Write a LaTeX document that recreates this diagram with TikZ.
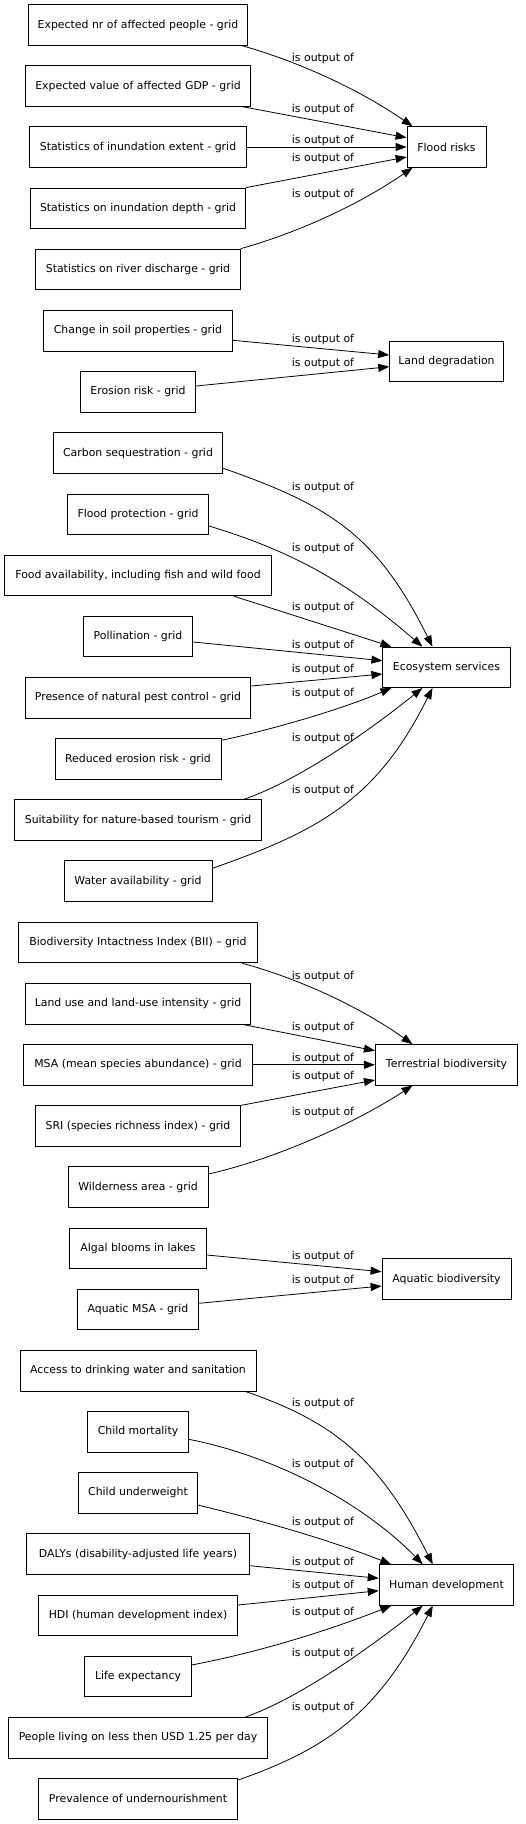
\documentclass[tikz,border=0pt]{standalone}
\usepackage{fontspec}
\setmainfont{DejaVu Sans}
\usetikzlibrary{arrows.meta}
\begin{document}
\begin{tikzpicture}[x=1pt,y=1pt,
  box/.style={draw, line width=0.8pt, minimum height=40.5pt, inner sep=0pt, font=\fontsize{10.9}{13}\selectfont},
  lbl/.style={font=\fontsize{10.9}{13}\selectfont, inner sep=0pt},
  conn/.style={line width=0.8pt, -{Triangle[length=11pt,width=8pt]}}]
\useasboundingbox (0,0) rectangle (525,-1824);
% ---------- Flood risks
\node[box,minimum width=219pt]   (n1) at (138,-25)    {Expected nr of affected people - grid};
\node[box,minimum width=225.7pt] (n2) at (138,-86)    {Expected value of affected GDP - grid};
\node[box,minimum width=217pt]   (n3) at (138,-147)   {Statistics of inundation extent - grid};
\node[box,minimum width=215.7pt] (n4) at (138,-208.2) {Statistics on inundation depth - grid};
\node[box,minimum width=204.7pt] (n5) at (138,-269.3) {Statistics on river discharge - grid};
\node[box,minimum width=79pt]    (fr) at (446.5,-147) {Flood risks};
% ---------- Land degradation
\node[box,minimum width=188.7pt] (n7) at (138,-330.7) {Change in soil properties - grid};
\node[box,minimum width=115.3pt] (n8) at (138,-391.7) {Erosion risk - grid};
\node[box,minimum width=113.7pt] (ld) at (446.5,-361.3) {Land degradation};
% ---------- Ecosystem services
\node[box,minimum width=168.7pt] (n10) at (138,-453)   {Carbon sequestration - grid};
\node[box,minimum width=141.3pt] (n11) at (138,-514.2) {Flood protection - grid};
\node[box,minimum width=267.3pt] (n12) at (138,-575.5) {Food availability, including fish and wild food};
\node[box,minimum width=109.7pt] (n13) at (138,-636.5) {Pollination - grid};
\node[box,minimum width=225.7pt] (n15) at (138,-697.8) {Presence of natural pest control - grid};
\node[box,minimum width=166pt]   (n16) at (138,-759)   {Reduced erosion risk - grid};
\node[box,minimum width=247.3pt] (n17) at (138,-820)   {Suitability for nature-based tourism - grid};
\node[box,minimum width=148pt]   (n18) at (138,-881)   {Water availability - grid};
\node[box,minimum width=127.3pt] (es)  at (446.5,-667.3) {Ecosystem services};
% ---------- Terrestrial biodiversity
\node[box,minimum width=239.3pt] (n19) at (138,-942.5)  {Biodiversity Intactness Index (BII) – grid};
\node[box,minimum width=225.7pt] (n20) at (138,-1003.7) {Land use and land-use intensity - grid};
\node[box,minimum width=228.3pt] (n21) at (138,-1064.8) {MSA (mean species abundance) - grid};
\node[box,minimum width=205.3pt] (n22) at (138,-1126)   {SRI (species richness index) - grid};
\node[box,minimum width=140pt]   (n23) at (138,-1187)   {Wilderness area - grid};
\node[box,minimum width=142.3pt] (tb)  at (446.5,-1064.8) {Terrestrial biodiversity};
% ---------- Aquatic biodiversity
\node[box,minimum width=137pt] (n25) at (138,-1248.3) {Algal blooms in lakes};
\node[box,minimum width=121pt] (n26) at (138,-1309.5) {Aquatic MSA - grid};
\node[box,minimum width=129pt] (ab)  at (446.5,-1279) {Aquatic biodiversity};
% ---------- Human development
\node[box,minimum width=236pt]   (n28) at (138,-1370.7) {Access to drinking water and sanitation};
\node[box,minimum width=100.7pt] (n29) at (138,-1431.8) {Child mortality};
\node[box,minimum width=118.7pt] (n30) at (138,-1492.7) {Child underweight};
\node[box,minimum width=222.7pt] (n31) at (138,-1554)   {DALYs (disability-adjusted life years)};
\node[box,minimum width=199.3pt] (n32) at (138,-1615.3) {HDI (human development index)};
\node[box,minimum width=106.3pt] (n33) at (138,-1676.3) {Life expectancy};
\node[box,minimum width=259.3pt] (n34) at (138,-1737.7) {People living on less then USD 1.25 per day};
\node[box,minimum width=199.3pt] (n35) at (138,-1798.7) {Prevalence of undernourishment};
\node[box,minimum width=134.7pt] (hd)  at (446.5,-1585) {Human development};

% ---------- edges: Flood risks
\draw[conn] ([xshift=-6pt]n1.south east) .. controls (300,-62) and (360,-90) .. ([xshift=6pt]fr.north west);
\draw[conn] ([xshift=-9pt]n2.south east) -- ([yshift=9.3pt]fr.west);
\draw[conn] (n3.east) -- (fr.west);
\draw[conn] (n4.north east) -- ([yshift=-10pt]fr.west);
\draw[conn] (n5.north east) .. controls (300,-232) and (360,-204) .. ([xshift=6pt]fr.south west);
% ---------- edges: Land degradation
\draw[conn] ([yshift=-9.6pt]n7.east) -- ([yshift=6.3pt]ld.west);
\draw[conn] ([yshift=5.7pt]n8.east) -- ([yshift=-5.4pt]ld.west);
% ---------- edges: Ecosystem services
\draw[conn] ([yshift=5.5pt]n10.south east) .. controls (332,-506) and (378,-537) .. ([xshift=50pt]es.north west);
\draw[conn] ([yshift=-11.8pt]n11.east) .. controls (298.7,-553) and (353,-587) .. ([xshift=40pt]es.north west);
\draw[conn] ([xshift=-38.3pt]n12.south east) -- ([xshift=9pt]es.north west);
\draw[conn] ([yshift=-5.5pt]n13.east) -- ([yshift=6.6pt]es.west);
\draw[conn] ([yshift=11.8pt]n15.east) -- ([yshift=-6.7pt]es.west);
\draw[conn] ([yshift=-2pt]n16.north east) .. controls (270,-730) and (340,-710) .. ([xshift=9pt]es.south west);
\draw[conn] ([xshift=-18.3pt]n17.north east) .. controls (300,-780) and (370,-730) .. ([xshift=40pt]es.south west);
\draw[conn] ([yshift=12.7pt]n18.east) .. controls (322,-830) and (378,-797.6) .. ([xshift=50pt]es.south west);
% ---------- edges: Terrestrial biodiversity
\draw[conn] ([xshift=-16pt]n19.south east) .. controls (300,-979) and (360,-1007) .. ([xshift=37.6pt]tb.north west);
\draw[conn] ([xshift=-9pt]n20.south east) -- ([yshift=14.1pt]tb.west);
\draw[conn] (n21.east) -- (tb.west);
\draw[conn] (n22.north east) -- ([yshift=-15.2pt]tb.west);
\draw[conn] ([yshift=13pt]n23.east) .. controls (280,-1158) and (360,-1120) .. ([xshift=37.6pt]tb.south west);
% ---------- edges: Aquatic biodiversity
\draw[conn] ([yshift=-6.7pt]n25.east) -- ([yshift=7.3pt]ab.west);
\draw[conn] ([yshift=6.2pt]n26.east) -- ([yshift=-7pt]ab.west);
% ---------- edges: Human development
\draw[conn] ([xshift=-11.3pt]n28.south east) .. controls (335,-1422) and (380,-1460) .. ([xshift=54pt]hd.north west);
\draw[conn] ([yshift=-7.5pt]n29.east) .. controls (270,-1455) and (360,-1500) .. ([xshift=44pt]hd.north west);
\draw[conn] ([yshift=-12.3pt]n30.east) .. controls (260,-1520) and (330,-1540) .. ([xshift=12.5pt]hd.north west);
\draw[conn] ([yshift=-11.7pt]n31.east) -- ([yshift=6.7pt]hd.west);
\draw[conn] ([yshift=10.3pt]n32.east) -- ([yshift=-5.7pt]hd.west);
\draw[conn] ([yshift=11.3pt]n33.east) .. controls (260,-1652) and (330,-1630) .. ([xshift=12.5pt]hd.south west);
\draw[conn] ([xshift=-22.6pt]n34.north east) .. controls (300,-1697.6) and (370,-1647.6) .. ([xshift=44pt]hd.south west);
\draw[conn] ([yshift=18.7pt]n35.east) .. controls (330,-1748) and (380,-1710) .. ([xshift=54pt]hd.south west);

% ---------- edge labels
\foreach \i/\y in {1/58,2/109,3/140,4/158,5/194,6/339,7/363,8/487,9/548,10/607,11/645,12/669,13/693,14/738,15/790,16/976,17/1027,18/1058,19/1076,20/1112,21/1256,22/1280,23/1403,24/1464,25/1522,26/1562,27/1585,28/1612,29/1653,30/1707}
  \node[lbl] (l\i) at (323,-\y) {is output of};
\end{tikzpicture}
\end{document}
